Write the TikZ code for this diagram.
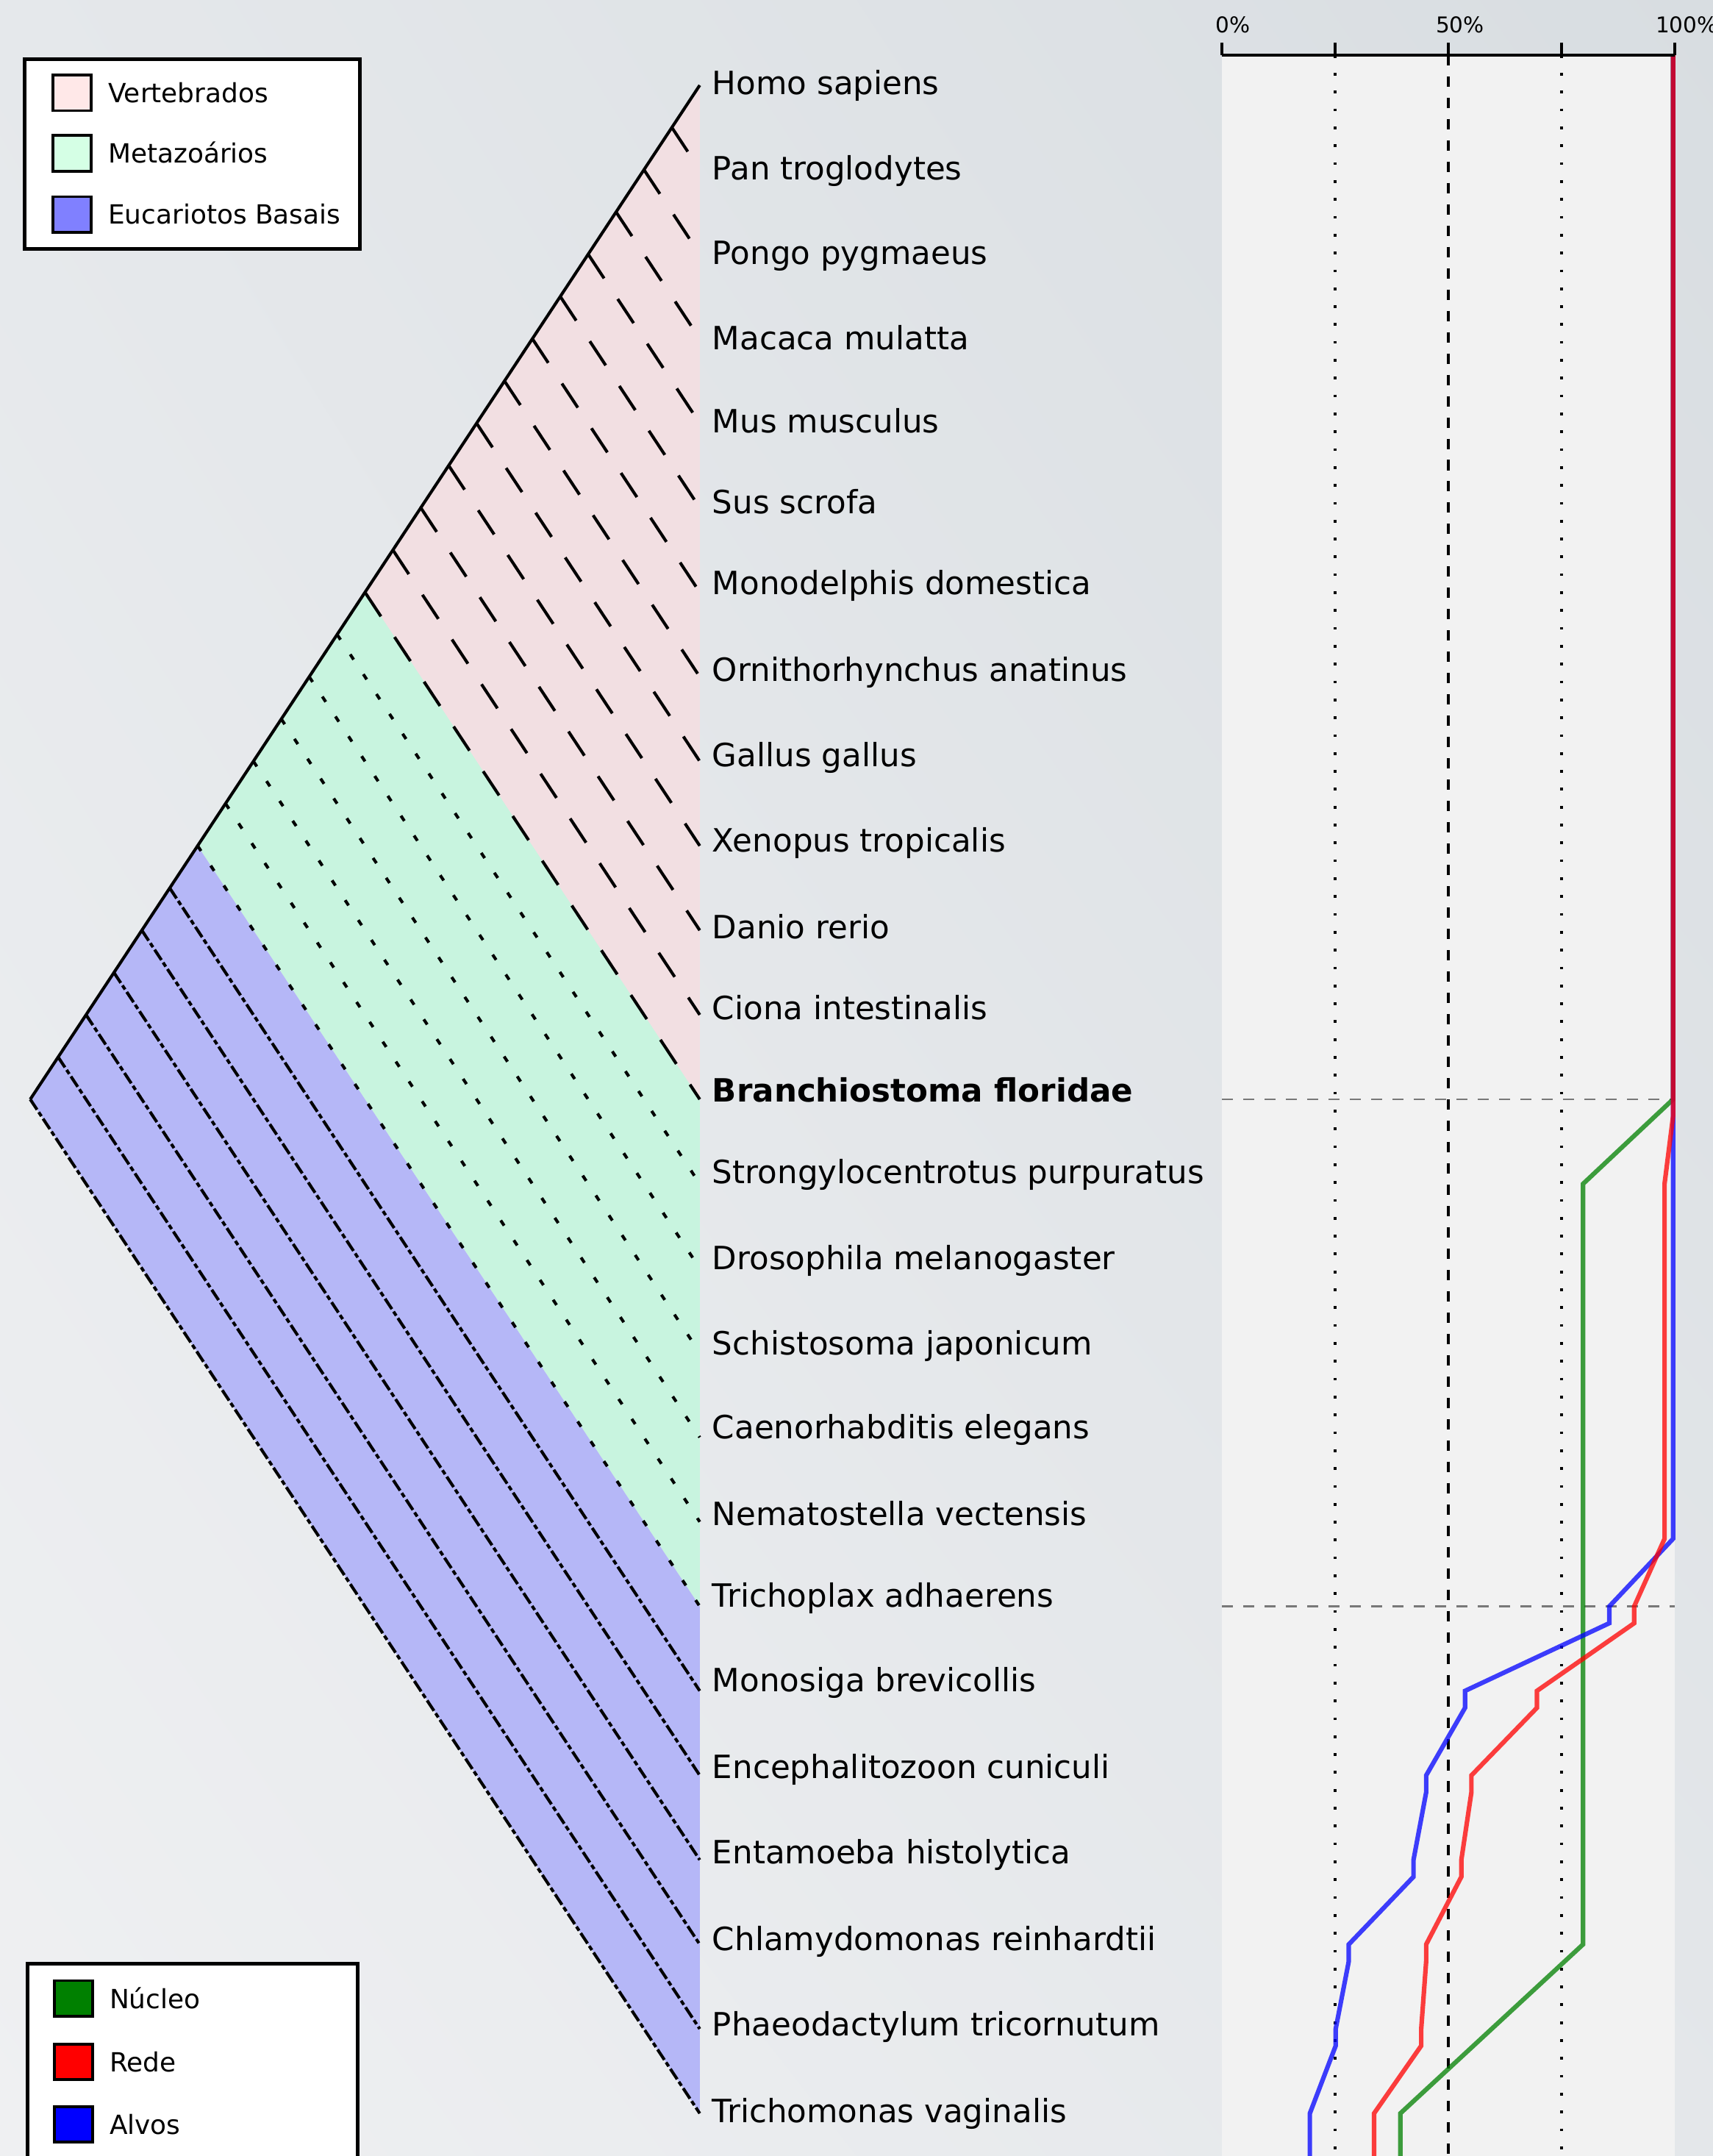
\documentclass[tikz,border=0pt]{standalone}
\usepackage{fontspec}
\setmainfont{DejaVu Sans}
\usetikzlibrary{calc,positioning,shadings}
\definecolor{vertcol}{HTML}{FFE8E8}
\definecolor{metacol}{HTML}{D5FFE5}
\definecolor{eucacol}{HTML}{8080FF}
\definecolor{vertfill}{RGB}{242,223,226}
\definecolor{metafill}{RGB}{200,244,223}
\definecolor{eucafill}{RGB}{181,183,247}
\definecolor{nucleocol}{HTML}{008000}
\definecolor{redecol}{HTML}{FF0000}
\definecolor{alvoscol}{HTML}{0000FF}
\definecolor{panelcol}{RGB}{242,242,242}
\definecolor{gridgray}{RGB}{120,120,120}

\begin{document}
\begin{tikzpicture}[x=1pt,y=-1pt,
		taxon/.style={anchor=base west,inner sep=0pt,font=\fontsize{23.3}{28}\selectfont},
		vertline/.style={line width=2.2pt,dash pattern=on 21pt off 18pt},
		metaline/.style={line width=2.2pt,dash pattern=on 4.5pt off 12.8pt},
		eucaline/.style={line width=2.2pt,dash pattern=on 9pt off 2.2pt on 3.5pt off 2.2pt},
		swatch/.style={draw=black,line width=2pt,minimum width=28pt,minimum height=26pt,inner sep=0pt},
		legtext/.style={inner sep=0pt,text height=14pt,text depth=0pt,font=\fontsize{19.2}{23}\selectfont},
		curve/.style={line width=3.3pt,draw opacity=0.75},
		pct/.style={inner sep=0pt,font=\fontsize{15.8}{19}\selectfont}]
		%% page size and background
		\useasboundingbox (0,0) rectangle (1246,1568);
		\shade[upper left={rgb,255:red,229;green,232;blue,235},upper right={rgb,255:red,216;green,221;blue,225},
			lower left={rgb,255:red,239;green,240;blue,242},lower right={rgb,255:red,228;green,231;blue,234}] (0,0) rectangle (1246,1568);
		\fill[panelcol] (889,40) rectangle (1218,1568);
		
		%% tree: root, leaves and the points on the spine
		\coordinate (root) at (22,799.5);
		\foreach \i in {0,...,24} \coordinate (leaf\i) at (509,{62+61.4583*\i});
		\foreach \i in {1,...,24} \coordinate (join\i) at ($(leaf0)!{\i/24}!(root)$);
		
		%% the three groups
		\fill[vertfill] (leaf0) -- (join12) -- (leaf12) -- cycle;
		\fill[metafill] (join12) -- (join18) -- (leaf18) -- (leaf12) -- cycle;
		\fill[eucafill] (join18) -- (root) -- (leaf24) -- (leaf18) -- cycle;
		
		\foreach \i in {1,...,12} \draw[vertline] (join\i) -- (leaf\i);
		\foreach \i in {13,...,18} \draw[metaline] (join\i) -- (leaf\i);
		\foreach \i in {19,...,24} \draw[eucaline] (join\i) -- (leaf\i);
		\draw[line width=2.2pt] (root) -- (leaf0);
		
		%% species names
		\node[taxon] (hsap) at (518,68.5) {Homo sapiens};
		\node[taxon] (ptro) at (518,130.5) {Pan troglodytes};
		\node[taxon] (ppyg) at (518,192.5) {Pongo pygmaeus};
		\node[taxon] (mmul) at (518,254.5) {Macaca mulatta};
		\node[taxon] (mmus) at (518,314.5) {Mus musculus};
		\node[taxon] (sscr) at (518,373.5) {Sus scrofa};
		\node[taxon] (mdom) at (518,432.5) {Monodelphis domestica};
		\node[taxon] (oana) at (518,495.5) {Ornithorhynchus anatinus};
		\node[taxon] (ggal) at (518,557.5) {Gallus gallus};
		\node[taxon] (xtro) at (518,619.5) {Xenopus tropicalis};
		\node[taxon] (drer) at (518,682.5) {Danio rerio};
		\node[taxon] (cint) at (518,741.5) {Ciona intestinalis};
		\node[taxon] (bflo) at (518,801.5) {\bfseries Branchiostoma floridae};
		\node[taxon] (spur) at (518,860.5) {Strongylocentrotus purpuratus};
		\node[taxon] (dmel) at (518,923.5) {Drosophila melanogaster};
		\node[taxon] (sjap) at (518,985.5) {Schistosoma japonicum};
		\node[taxon] (cele) at (518,1046.5) {Caenorhabditis elegans};
		\node[taxon] (nvec) at (518,1109.5) {Nematostella vectensis};
		\node[taxon] (tadh) at (518,1168.5) {Trichoplax adhaerens};
		\node[taxon] (mbre) at (518,1230.5) {Monosiga brevicollis};
		\node[taxon] (ecun) at (518,1293.5) {Encephalitozoon cuniculi};
		\node[taxon] (ehis) at (518,1355.5) {Entamoeba histolytica};
		\node[taxon] (crei) at (518,1418.5) {Chlamydomonas reinhardtii};
		\node[taxon] (ptri) at (518,1480.5) {Phaeodactylum tricornutum};
		\node[taxon] (tvag) at (518,1543.5) {Trichomonas vaginalis};
		
		%% legend of the groups
		\draw[fill=white,line width=2.6pt] (18,43) rectangle (262,181);
		\node[swatch,fill=vertcol] (swvert) at (52.5,67.5) {};
		\node[swatch,fill=metacol] (swmeta) at (52.5,111.5) {};
		\node[swatch,fill=eucacol] (sweuca) at (52.5,156) {};
		\node[legtext,right=11pt of swvert] (txvert) {Vertebrados};
		\node[legtext,right=11pt of swmeta] (txmeta) {Metazoários};
		\node[legtext,right=11pt of sweuca] (txeuca) {Eucariotos Basais};
		
		%% legend of the curves
		\draw[fill=white,line width=2.6pt] (20,1428) rectangle (260,1590);
		\node[swatch,fill=nucleocol] (swnucleo) at (53.5,1453.5) {};
		\node[swatch,fill=redecol] (swrede) at (53.5,1499.5) {};
		\node[swatch,fill=alvoscol] (swalvos) at (53.5,1545) {};
		\node[legtext,right=11pt of swnucleo] (txnucleo) {Núcleo};
		\node[legtext,right=11pt of swrede] (txrede) {Rede};
		\node[legtext,right=11pt of swalvos] (txalvos) {Alvos};
		
		%% percentage scale
		\coordinate (tick0) at (889,40);
		\coordinate (tick25) at (971.25,40);
		\coordinate (tick50) at (1053.5,40);
		\coordinate (tick75) at (1135.75,40);
		\coordinate (tick100) at (1218,40);
		\coordinate (floor) at (0,1568);
		\draw[line width=2pt,dash pattern=on 2pt off 11pt] (tick25) -- (tick25 |- floor);
		\draw[line width=2pt,dash pattern=on 2pt off 11pt] (tick75) -- (tick75 |- floor);
		\draw[line width=2pt,dash pattern=on 7.5pt off 8pt] (tick50) -- (tick50 |- floor);
		\draw[gridgray,line width=1.2pt,dash pattern=on 8pt off 7.5pt] (tick0 |- leaf12) -- (tick100 |- leaf12);
		\draw[gridgray,line width=1.2pt,dash pattern=on 8pt off 7.5pt] (tick0 |- leaf18) -- (tick100 |- leaf18);
		
		%% Nucleo, Alvos and Rede
		\draw[curve,nucleocol] (1217,40) -- (1217,799.5) -- (1151.5,861) -- (1151.5,1414.1) -- (1018.6,1537) -- (1018.6,1568);
		\draw[curve,alvoscol] (1217,40) -- (1217,1119.1) -- (1170.6,1168.3) -- (1170.6,1180.5) -- (1065.7,1229.7) -- (1065.7,1242)
			-- (1037.4,1291.2) -- (1037.4,1303.5) -- (1028.2,1352.6) -- (1028.2,1364.9) -- (981.1,1414.1) -- (981.1,1426.4)
			-- (971.6,1475.5) -- (971.6,1487.8) -- (952.8,1537) -- (952.8,1568);
		\draw[curve,redecol] (1217,40) -- (1217,811.8) -- (1210.8,861) -- (1210.8,1119.1) -- (1188.7,1168.3) -- (1188.7,1180.5)
			-- (1118,1229.7) -- (1118,1242) -- (1070.3,1291.2) -- (1070.3,1303.5) -- (1063,1352.6) -- (1063,1364.9)
			-- (1037.4,1414.1) -- (1037.4,1426.4) -- (1033.8,1475.5) -- (1033.8,1487.8) -- (999.5,1537) -- (999.5,1568);
		
		\draw[line width=2.4pt] (tick0) -- (tick100);
		\foreach \t in {tick0,tick25,tick50,tick75,tick100} \draw[line width=2.2pt] (\t) -- ++(0,-9);
		\node[pct] (pct0) at (897,18) {0\%};
		\node[pct] (pct50) at (1062,18) {50\%};
		\node[pct] (pct100) at (1227,18) {100\%};
	\end{tikzpicture}
\end{document}
